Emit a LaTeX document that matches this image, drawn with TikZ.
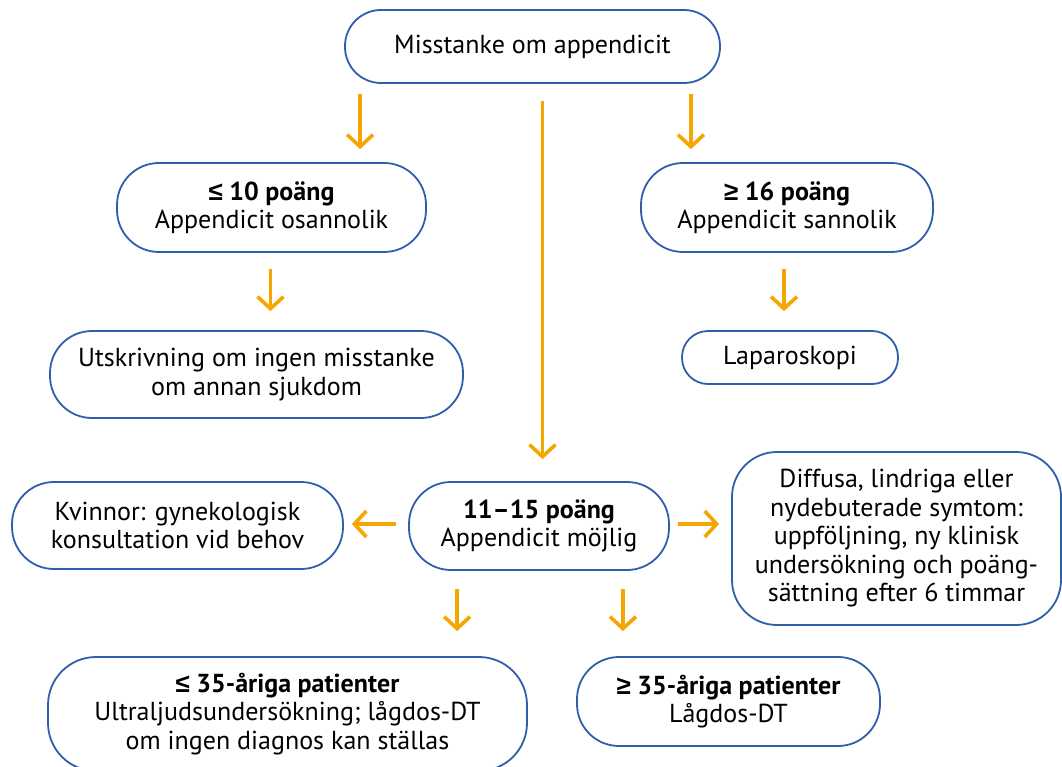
\documentclass[tikz,border=0pt]{standalone}
\usepackage{fontspec}
\setmainfont{PT Sans}
\newfontfamily\symfont{Liberation Sans}
\newcommand{\lesym}{{\symfont ≤}}
\newcommand{\gesym}{{\symfont ≥}}
\usetikzlibrary{arrows.meta}
\definecolor{boxblue}{RGB}{47,94,171}
\definecolor{arrorange}{RGB}{245,166,0}

\begin{document}
\begin{tikzpicture}[x=1pt, y=-1pt,
  box/.style={rectangle, draw=boxblue, line width=1.8pt, rounded corners=42pt,
      align=center, inner sep=0pt, font=\fontsize{26}{28.5}\selectfont},
  arr/.style={draw=arrorange, line width=3.6pt,
      -{Straight Barb[length=12pt, width=26pt]}}]

\useasboundingbox (0,0) rectangle (1062,767);

% top
\node[box, minimum width=375pt, minimum height=73pt, rounded corners=36pt]
(misst) at (532.5, 46.5) {Misstanke om appendicit};

% left and right branches
\node[box, minimum width=309pt, minimum height=89pt]
(low) at (271.5, 207.5) {\textbf{\lesym{} 10 poäng}\\Appendicit osannolik};

\node[box, minimum width=292pt, minimum height=89pt]
(high) at (787, 207.5) {\textbf{\gesym{} 16 poäng}\\Appendicit sannolik};

\node[box, minimum width=413pt, minimum height=87pt]
(utskr) at (256.5, 374.5) {Utskrivning om ingen misstanke\\om annan sjukdom};

\node[box, minimum width=216pt, minimum height=53pt, rounded corners=26pt]
(lapar) at (790, 357.5) {Laparoskopi};

% middle row
\node[box, minimum width=260pt, minimum height=88pt]
(mid) at (539, 526) {\textbf{11–15 poäng}\\Appendicit möjlig};

\node[box, minimum width=331pt, minimum height=87pt]
(kvinn) at (177.5, 525.5) {Kvinnor: gynekologisk\\konsultation vid behov};

\node[box, minimum width=329pt, minimum height=173pt, rounded corners=45pt]
(diff) at (896.5, 538.5) {Diffusa, lindriga eller\\nydebuterade symtom:\\uppföljning, ny klinisk\\undersökning och poäng-\\sättning efter 6 timmar};

% bottom row
\node[box, minimum width=479pt, minimum height=114pt, rounded corners=48pt]
(young) at (287.5, 714) {\textbf{\lesym{} 35-åriga patienter}\\Ultraljudsundersökning; lågdos-DT\\om ingen diagnos kan ställas};

\node[box, minimum width=303pt, minimum height=89pt]
(old) at (728.5, 701.5) {\textbf{\gesym{} 35-åriga patienter}\\Lågdos-DT};

% arrows
\draw[arr, shorten <=10pt, shorten >=13pt] ([xshift=16pt]misst.south west) -- ([xshift=16pt]misst.south west |- low.north);
\draw[arr, shorten <=10pt, shorten >=13pt] ([xshift=-30pt]misst.south east) -- ([xshift=-30pt]misst.south east |- high.north);
\draw[arr, shorten <=17pt, shorten >=22pt] ([xshift=10pt]misst.south) -- ([xshift=10pt]misst.south |- mid.north);
\draw[arr, shorten <=16pt, shorten >=19pt] ([xshift=-1pt]low.south) -- ([xshift=-1pt]low.south |- utskr.north);
\draw[arr, shorten <=16pt, shorten >=19pt] ([xshift=-3pt]high.south) -- ([xshift=-3pt]high.south |- lapar.north);
\draw[arr, shorten <=12pt, shorten >=8pt] ([yshift=2pt]mid.west) -- ([yshift=2pt]mid.west -| kvinn.east);
\draw[arr, shorten <=8pt, shorten >=12pt] ([yshift=2pt]mid.east) -- ([yshift=2pt]mid.east -| diff.west);
\draw[arr, shorten <=18pt, shorten >=25pt] ([xshift=49pt]mid.south west) -- ([xshift=49pt]mid.south west |- young.north);
\draw[arr, shorten <=18pt, shorten >=25pt] ([xshift=-47pt]mid.south east) -- ([xshift=-47pt]mid.south east |- old.north);

\end{tikzpicture}
\end{document}
